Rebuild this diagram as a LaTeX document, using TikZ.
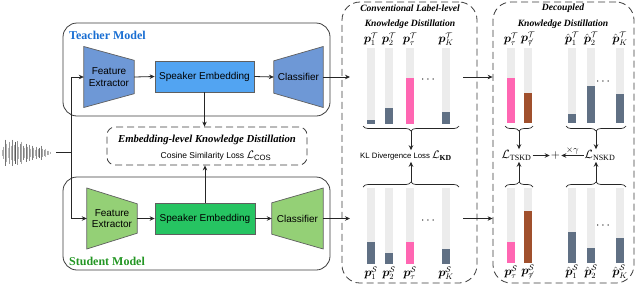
\documentclass[tikz,border=0pt]{standalone}
\usepackage{amsmath,amssymb}
\usepackage{fontspec}
\setmainfont{Liberation Serif}
\setsansfont{Liberation Sans}
\usetikzlibrary{decorations.pathreplacing,arrows.meta,calc}
\definecolor{tfill}{RGB}{110,152,214}
\definecolor{tsef}{RGB}{82,164,242}
\definecolor{sfill}{RGB}{148,208,118}
\definecolor{ssef}{RGB}{38,196,98}
\definecolor{tblue}{RGB}{25,110,210}
\definecolor{sgreen}{RGB}{35,150,35}
\definecolor{barbg}{RGB}{236,236,236}
\definecolor{slate}{RGB}{96,112,132}
\definecolor{pinkb}{RGB}{255,102,178}
\definecolor{brownb}{RGB}{160,80,45}
\definecolor{edge}{RGB}{60,60,60}
\definecolor{shpedge}{RGB}{95,95,95}
\pgfdeclarelayer{bgl}
\pgfsetlayers{bgl,main}
\newcommand\mybar[5]{\fill[barbg] (#1,#2) rectangle ({#1+7.8},#3); \fill[#5] (#1,#4) rectangle ({#1+7.8},#3);}
\newcommand\lossmath[1]{{\fontsize{11}{12}\selectfont #1}}
\begin{document}
\begin{tikzpicture}[x=1pt,y=-1pt,
  arr/.style={-{Stealth[length=5pt,width=4.5pt]}, line width=0.8pt, draw=black!85},
  plain/.style={line width=0.8pt, draw=black!85},
  modelbox/.style={draw=edge, line width=0.8pt, rounded corners=14pt, minimum width=267pt, minimum height=93pt, inner sep=0pt},
  dbox/.style={draw=edge, line width=0.8pt, dash pattern=on 7pt off 4pt, inner sep=0pt},
  txt/.style={font=\sffamily\fontsize{10}{11.5}\selectfont, align=center, inner sep=0pt},
  shp/.style={draw=shpedge, line width=0.7pt},
  title/.style={font=\bfseries\itshape\fontsize{10.7}{11}\selectfont, inner sep=0pt},
  ktitle/.style={font=\bfseries\itshape\fontsize{9.6}{11}\selectfont, inner sep=0pt},
  mtitle/.style={font=\bfseries\fontsize{12}{13}\selectfont, inner sep=0pt, anchor=west},
  lab/.style={font=\fontsize{12}{13}\selectfont, inner sep=0pt},
  brace/.style={decorate, decoration={brace, amplitude=5pt}, line width=0.7pt, draw=black!85},
  wave/.style={line width=0.6pt}
]
\useasboundingbox (0,0) rectangle (640,285);

% model boxes
\node[modelbox] (tbox) at (196.5,69.5) {};
\node[modelbox] (sbox) at (196.5,223.5) {};
\node[mtitle, text=tblue] (tlab) at (69,35) {Teacher Model};
\node[mtitle, text=sgreen] (slab) at (69,261) {Student Model};

% teacher
\node[txt, minimum width=50pt, minimum height=33pt] (tfe) at (109,77) {Feature\\Extractor};
\node[txt, draw=shpedge, line width=0.7pt, fill=tsef, minimum width=99pt, minimum height=31pt] (tse) at (204.5,76.5) {Speaker Embedding};
\node[txt, minimum width=49pt, minimum height=32pt] (tcl) at (298.5,77) {Classifier};
% student
\node[txt, minimum width=50pt, minimum height=29pt] (sfe) at (112,218.5) {Feature\\Extractor};
\node[txt, draw=shpedge, line width=0.7pt, fill=ssef, minimum width=100pt, minimum height=31pt] (sse) at (205,218.5) {Speaker Embedding};
\node[txt, minimum width=51pt, minimum height=31pt] (scl) at (297.5,218.5) {Classifier};

\begin{pgfonlayer}{bgl}
\draw[shp, fill=tfill] (tfe.north east) -- (tfe.south east) -- ([yshift=-30.5pt]tfe.west) -- ([yshift=30.5pt]tfe.west) -- cycle;
\draw[shp, fill=tfill] (tcl.north west) -- (tcl.south west) -- ([yshift=-30.5pt]tcl.east) -- ([yshift=30.5pt]tcl.east) -- cycle;
\draw[shp, fill=sfill] (sfe.north east) -- (sfe.south east) -- ([yshift=-30.5pt]sfe.west) -- ([yshift=30.5pt]sfe.west) -- cycle;
\draw[shp, fill=sfill] (scl.north west) -- (scl.south west) -- ([yshift=-30.5pt]scl.east) -- ([yshift=30.5pt]scl.east) -- cycle;
\end{pgfonlayer}

\draw[arr] (tfe.east) -- (tse.west);
\draw[arr] (tse.east) -- (tcl.west);
\draw[arr] (sfe.east) -- (sse.west);
\draw[arr] (sse.east) -- (scl.west);

% embedding-level KD
\node[dbox, rounded corners=8pt, minimum width=200pt, minimum height=38pt] (emb) at (207,146) {};
\node[title] (embt) at (207,139.5) {Embedding-level Knowledge Distillation};
\node[font=\sffamily\fontsize{8.5}{10}\selectfont, inner sep=0pt] (cos) at (216,155.5) {Cosine Similarity Loss \lossmath{$\mathcal{L}_{\mathsf{COS}}$}};
\draw[arr] (tse.south) -- (tse.south |- emb.north);
\draw[arr] (sse.north) -- (sse.north |- emb.south);

% waveform
\foreach \x/\h/\c in {2/3/30,3.5/6/35,5/13/55,6.5/9/30,8/5/25,9.5/11/40,11/7/30,12.5/13/50,14/8/35,15.5/11/65,17/12/40,18.5/6/30,20/9/45,21.5/11/35,23/7/50,24.5/5/30,26/9/55,27.5/6/35,29/8/45,30.5/4/30,32/7/50,33.5/5/35,35/3/30,36.5/6/45,38/4/35,39.5/5/60,41/7/50,42.5/4/35,44/3/40,45.5/4/30,47/2/35,48.5/2/30,50/1/30}
  \draw[wave, black!\c] (\x,152.5-\h) -- (\x,152.5+\h);
\coordinate (wv) at (56,152.5);
\coordinate (sp) at (71,152.5);
\draw[plain] (wv) -- (sp);
\draw[arr] (sp) |- (tfe.west);
\draw[arr] (sp) |- (sfe.west);

% conventional label-level KD
\node[dbox, rounded corners=18pt, minimum width=135pt, minimum height=281pt] (conv) at (409.5,142.5) {};
\node[ktitle] (convt1) at (410,8.5) {Conventional Label-level};
\node[ktitle] (convt2) at (410,24) {Knowledge Distillation};
\coordinate (tin) at (350,77);
\coordinate (sin) at (350,218.5);
\draw[arr] (tcl.east |- tin) -- (tin);
\draw[arr] (scl.east |- sin) -- (sin);

% decoupled KD
\node[dbox, rounded corners=18pt, minimum width=141pt, minimum height=281pt] (dec) at (563.5,142.5) {};
\node[ktitle] (dect1) at (563,8.5) {Decoupled};
\node[ktitle] (dect2) at (563,24) {Knowledge Distillation};
\coordinate (tout) at (463,77);
\coordinate (sout) at (463,218.5);
\draw[arr] (tout) -- (tout -| dec.west);
\draw[arr] (sout) -- (sout -| dec.west);

% teacher bars (conventional)
\mybar{367}{48}{124}{120}{slate}
\mybar{385}{48}{124}{108}{slate}
\mybar{406}{48}{124}{78}{pinkb}
\mybar{442}{48}{124}{112}{slate}
\node[lab] (ct1) at (371,39) {$\boldsymbol{p}_1^{\mathcal{T}}$};
\node[lab] (ct2) at (389,39) {$\boldsymbol{p}_2^{\mathcal{T}}$};
\node[lab] (ct3) at (410,39) {$\boldsymbol{p}_\tau^{\mathcal{T}}$};
\node[lab] (ct4) at (446,39) {$\boldsymbol{p}_K^{\mathcal{T}}$};
\node[lab] (cdt) at (429,80) {$\cdots$};
% student bars (conventional)
\mybar{367}{188}{264}{242}{slate}
\mybar{385}{188}{264}{253}{slate}
\mybar{406}{188}{264}{242}{pinkb}
\mybar{442}{188}{264}{249}{slate}
\node[lab] (cs1) at (371,273) {$\boldsymbol{p}_1^{\mathcal{S}}$};
\node[lab] (cs2) at (389,273) {$\boldsymbol{p}_2^{\mathcal{S}}$};
\node[lab] (cs3) at (410,273) {$\boldsymbol{p}_\tau^{\mathcal{S}}$};
\node[lab] (cs4) at (446,273) {$\boldsymbol{p}_K^{\mathcal{S}}$};
\node[lab] (cds) at (429,221) {$\cdots$};

\node[font=\sffamily\fontsize{7.8}{10}\selectfont, inner sep=1pt] (kl) at (406,156) {KL Divergence Loss \lossmath{$\mathcal{L}_{\mathbf{KD}}$}};
\draw[brace] (459,126) -- (363,126);
\coordinate (cbt) at (411,131);
\draw[arr] (cbt) -- (cbt |- kl.north);
\draw[brace] (363,187) -- (459,187);
\coordinate (cbs) at (411,182);
\draw[arr] (cbs) -- (cbs |- kl.south);

% teacher bars (decoupled)
\mybar{507}{48}{123}{78}{pinkb}
\mybar{524}{48}{123}{93}{brownb}
\mybar{568}{48}{123}{114}{slate}
\mybar{587}{48}{123}{86}{slate}
\mybar{616}{48}{123}{94}{slate}
\node[lab] (dt1) at (511,39) {$\boldsymbol{p}_\tau^{\mathcal{T}}$};
\node[lab] (dt2) at (528,39) {$\boldsymbol{p}_{\not\tau}^{\mathcal{T}}$};
\node[lab] (dt3) at (572,39) {$\hat{\boldsymbol{p}}_1^{\mathcal{T}}$};
\node[lab] (dt4) at (591,39) {$\hat{\boldsymbol{p}}_2^{\mathcal{T}}$};
\node[lab] (dt5) at (620,39) {$\hat{\boldsymbol{p}}_K^{\mathcal{T}}$};
\node[lab] (ddt) at (604,82) {$\cdots$};
% student bars (decoupled)
\mybar{507}{188}{263}{242}{pinkb}
\mybar{524}{188}{263}{211}{brownb}
\mybar{568}{188}{263}{232}{slate}
\mybar{587}{188}{263}{248}{slate}
\mybar{616}{188}{263}{238}{slate}
\node[lab] (ds1) at (511,272) {$\boldsymbol{p}_\tau^{\mathcal{S}}$};
\node[lab] (ds2) at (528,272) {$\boldsymbol{p}_{\not\tau}^{\mathcal{S}}$};
\node[lab] (ds3) at (572,272) {$\hat{\boldsymbol{p}}_1^{\mathcal{S}}$};
\node[lab] (ds4) at (591,272) {$\hat{\boldsymbol{p}}_2^{\mathcal{S}}$};
\node[lab] (ds5) at (620,272) {$\hat{\boldsymbol{p}}_K^{\mathcal{S}}$};
\node[lab] (dds) at (604,226) {$\cdots$};

\node[lab, inner sep=1pt] (tskd) at (516.5,155.5) {$\mathcal{L}_{\mathrm{TSKD}}$};
\node[lab, inner sep=1pt] (nskd) at (600,155.5) {$\mathcal{L}_{\mathrm{NSKD}}$};
\node[lab, inner sep=1pt] (plus) at (555.5,155.5) {$+$};
\draw[arr] (tskd.east) -- (plus.west);
\draw[arr] (nskd.west) -- node[above, inner sep=1pt, font=\fontsize{9}{10}\selectfont] (gam) {$\times\gamma$} (plus.east);

\draw[brace] (533,126) -- (505,126);
\coordinate (dbt1) at (519,131);
\draw[arr] (dbt1) -- (dbt1 |- tskd.north);
\draw[brace] (626,126) -- (566,126);
\coordinate (dbt2) at (596,131);
\draw[arr] (dbt2) -- (dbt2 |- nskd.north);
\draw[brace] (505,187) -- (533,187);
\coordinate (dbs1) at (519,182);
\draw[arr] (dbs1) -- (dbs1 |- tskd.south);
\draw[brace] (566,187) -- (626,187);
\coordinate (dbs2) at (596,182);
\draw[arr] (dbs2) -- (dbs2 |- nskd.south);
\end{tikzpicture}
\end{document}
